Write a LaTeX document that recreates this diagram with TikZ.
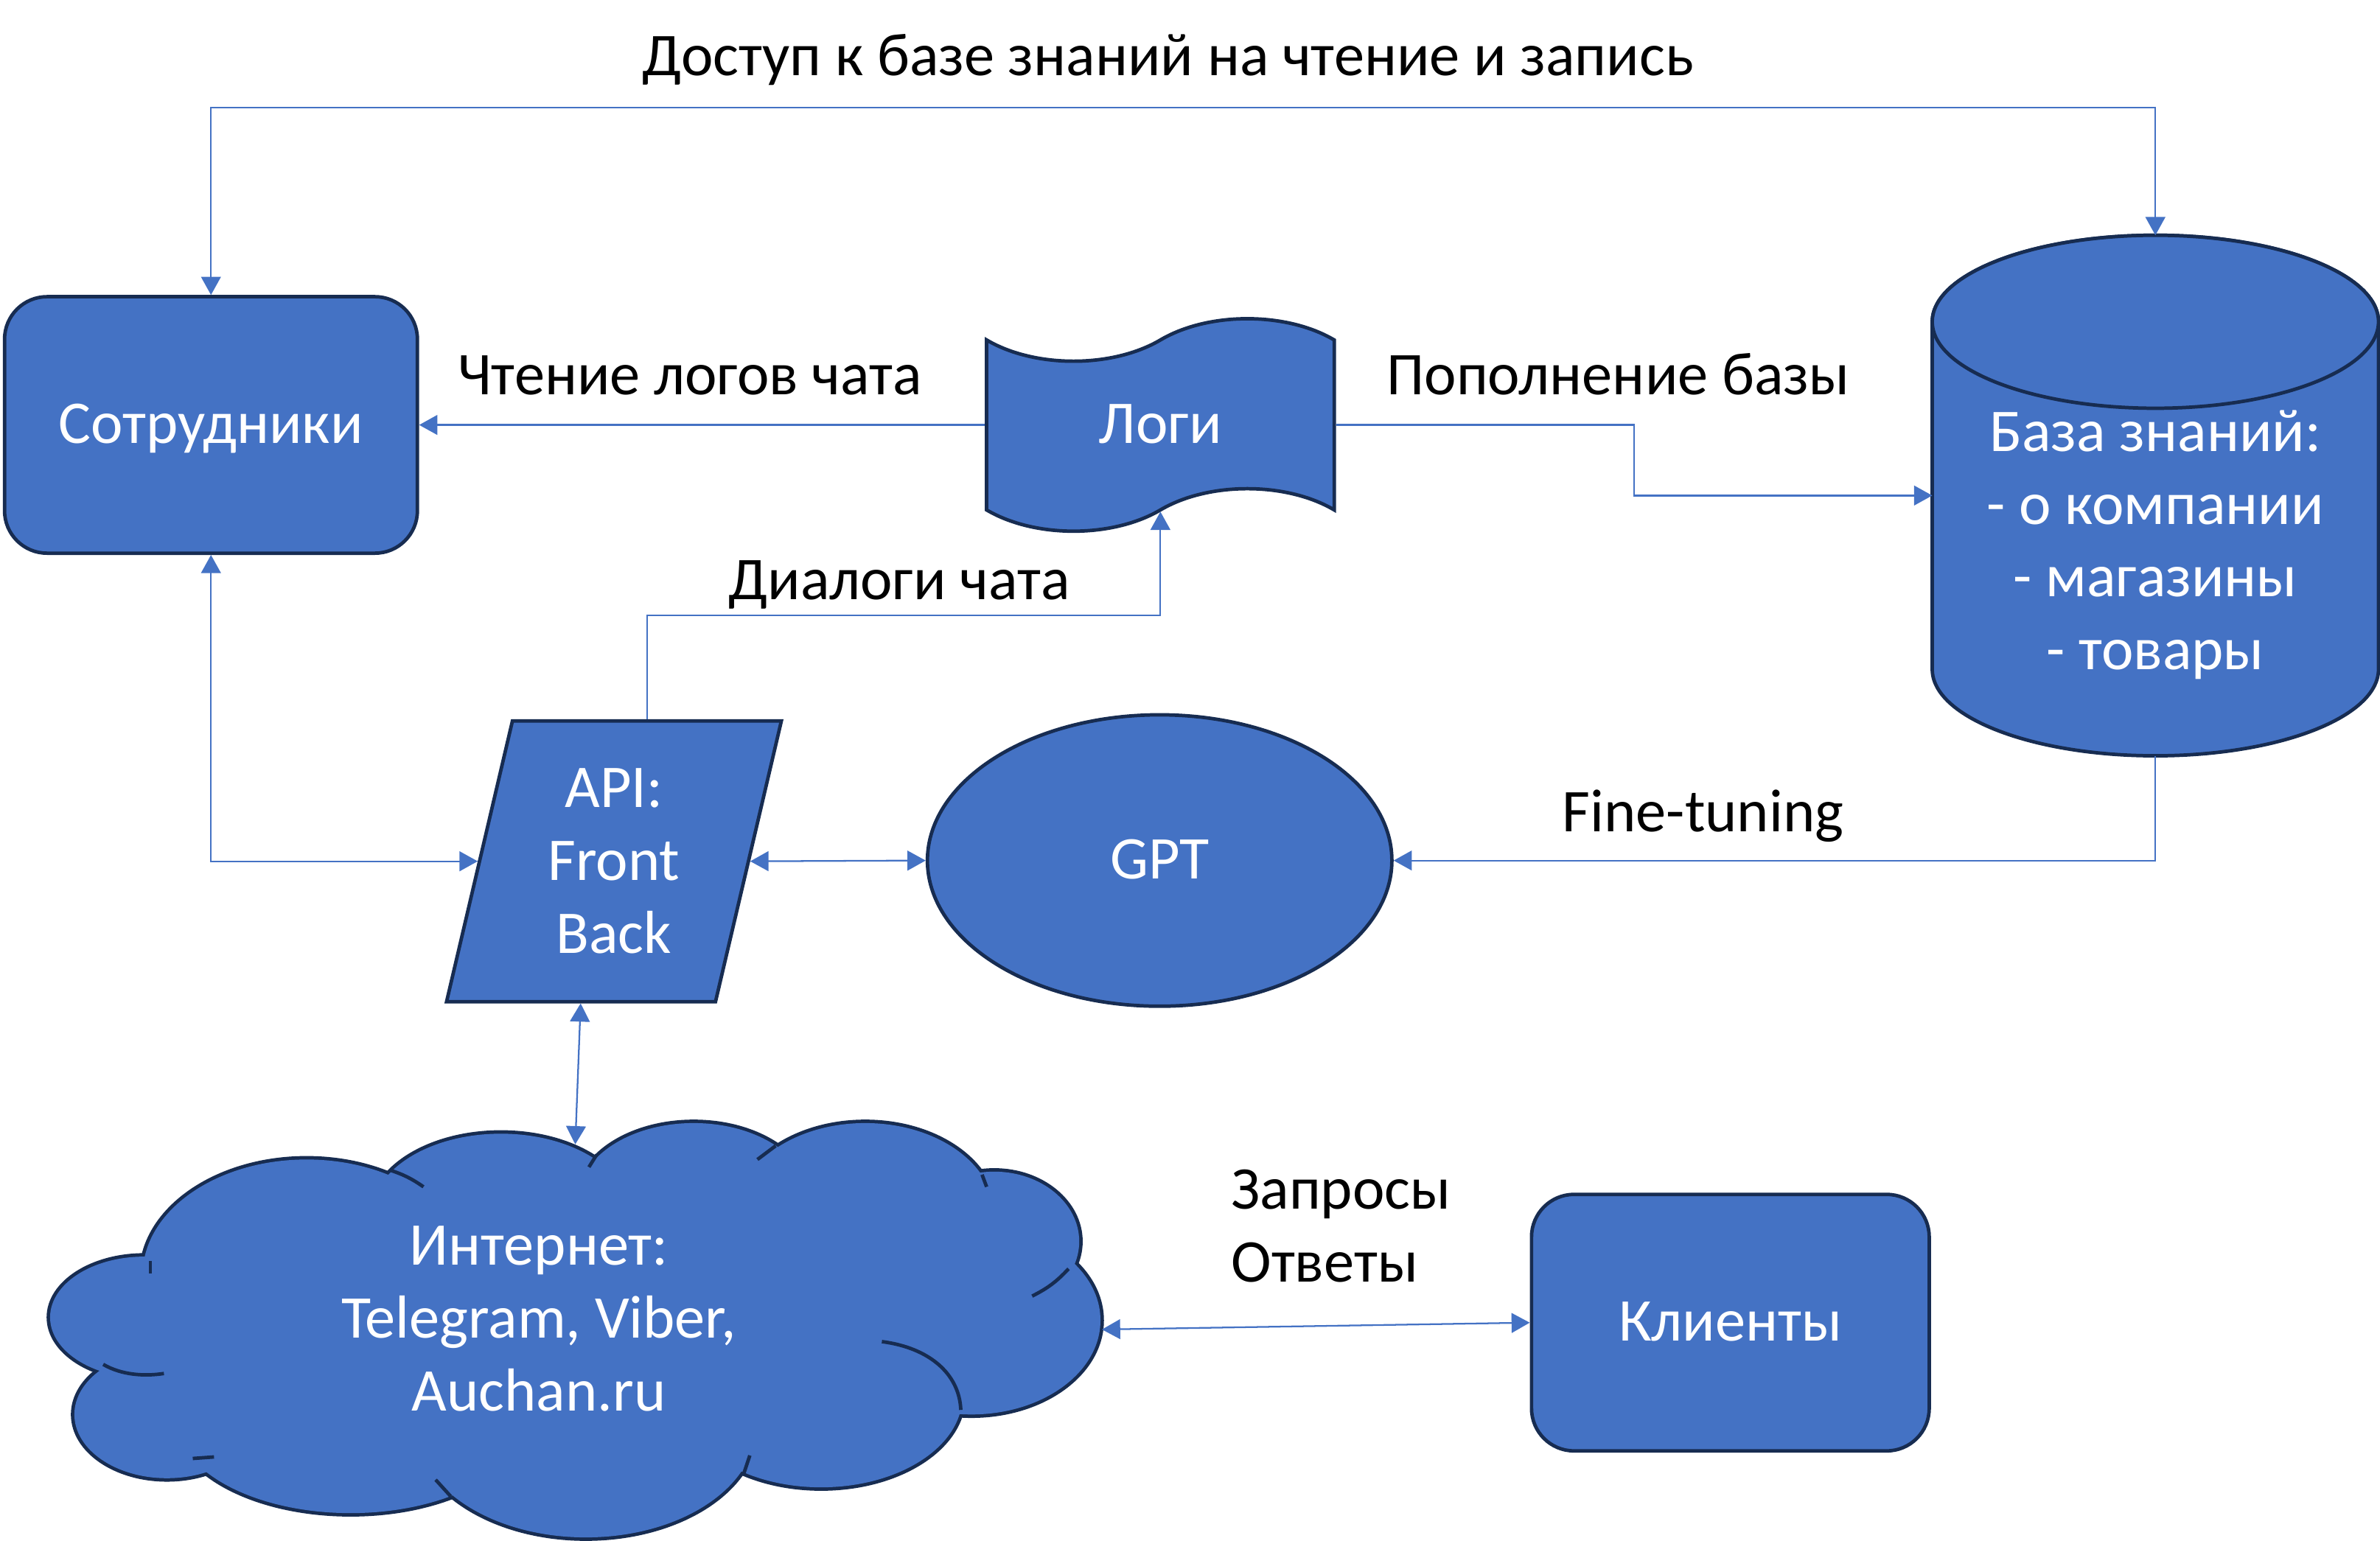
\documentclass[tikz,border=0pt]{standalone}
\usepackage{fontspec}
\setmainfont{Carlito}
\usetikzlibrary{shapes.geometric,shapes.symbols,arrows.meta,calc}
\definecolor{fillblue}{HTML}{4472C4}
\definecolor{edgeblue}{HTML}{172C51}
\newcommand{\bigfont}{\fontsize{40}{48}\selectfont}

\begin{document}
\begin{tikzpicture}[x = 1pt, y = 1pt,
		block/.style = {draw=edgeblue, fill=fillblue, line width=2.3pt, text=white, font=\bigfont, inner sep=0pt},
		oneline/.style = {text height=28pt, text depth=4pt},
		plain/.style = {font=\bigfont, inner sep=0pt},
		link/.style = {draw=fillblue, line width=1.1pt},
		tip/.style = {-{Triangle[length=12pt,width=13pt]}},
		both/.style = {{Triangle[length=12pt,width=13pt]}-{Triangle[length=12pt,width=13pt]}}]
		\useasboundingbox (0,-1015) rectangle (1568,0);
		% cloud
		\def\puffs{202/840/108/76, 330/800/85/53, 457/790/76/50, 570/800/85/60, 655/818/56/46, 640/870/85/62, 541/920/93/60, 386/940/112/73, 231/935/115/62, 110/932/61/42, 95/868/62/40}
		\foreach \cx/\cy/\rx/\ry in \puffs
			\draw[draw=edgeblue, fill=fillblue, line width=4.6pt] (\cx,-\cy) ellipse [x radius=\rx, y radius=\ry];
		\foreach \cx/\cy/\rx/\ry in \puffs
			\fill[fillblue] (\cx,-\cy) ellipse [x radius=\rx, y radius=\ry];
		\fill[fillblue] (202,-840) -- (330,-800) -- (457,-790) -- (570,-800) -- (655,-818) -- (640,-870) -- (541,-920) -- (386,-940) -- (231,-935) -- (110,-932) -- (95,-868) -- cycle;
		\draw[edgeblue, line width=2.3pt] (257,-771) to[bend left=8] (279,-782);
		\draw[edgeblue, line width=2.3pt] (393,-761) -- (388,-769);
		\draw[edgeblue, line width=2.3pt] (511,-755) -- (499,-764);
		\draw[edgeblue, line width=2.3pt] (647,-774) -- (650,-782);
		\draw[edgeblue, line width=2.3pt] (704,-836) to[bend left=10] (680,-854);
		\draw[edgeblue, line width=2.3pt] (633,-929) .. controls (632,-905) and (612,-888) .. (581,-884);
		\draw[edgeblue, line width=2.3pt] (490,-971) -- (494,-959);
		\draw[edgeblue, line width=2.3pt] (297,-986) -- (287,-975);
		\draw[edgeblue, line width=2.3pt] (127,-961) -- (141,-960);
		\draw[edgeblue, line width=2.3pt] (68,-899) .. controls (80,-906) and (95,-907) .. (108,-905);
		\draw[edgeblue, line width=2.3pt] (99,-831) -- (99,-839);
		\node[plain, text=white, align=center] (inet) at (355,-869) {Интернет:\\Telegram, Viber,\\Auchan.ru};
		\coordinate (inettop) at (379,-754);
		\coordinate (inetright) at (726,-876);

		% knowledge base
		\node[minimum width=294pt, minimum height=343pt, inner sep=0pt, outer sep=0pt] (bz) at (1420,-326.5) {};
		\draw[block] ([yshift=-57pt]bz.north west) -- ([yshift=57pt]bz.south west) arc[start angle=180, end angle=360, x radius=147, y radius=57] -- ([yshift=-57pt]bz.north east) arc[start angle=0, end angle=180, x radius=147, y radius=57] -- cycle;
		\draw[block] ([yshift=-57pt]bz.north) ellipse [x radius=147, y radius=57];
		\node[plain, text=white, align=center] (bztext) at (1420,-359) {База знаний:\\- о компании\\- магазины\\- товары};

		\node[block, oneline, rounded corners=28pt, minimum width=272pt, minimum height=169pt] (sotr) at (139,-280) {Сотрудники};
		\node[block, oneline, tape, minimum width=229pt, minimum height=140pt, tape bend height=28pt] (logi) at (764.5,-280) {Логи};
		\node[block, oneline, ellipse, minimum width=306pt, minimum height=192pt] (gpt) at (764,-567) {GPT};
		\node[block, trapezium, trapezium left angle=77, trapezium right angle=103, trapezium stretches=true, minimum width=221pt, minimum height=185pt, align=center] (api) at (404.5,-567.5) {API:\\Front\\Back};
		\node[block, oneline, rounded corners=28pt, minimum width=262pt, minimum height=169pt] (klient) at (1140,-871.5) {Клиенты};

		\node[plain, anchor=base] (title) at (769.5,-50) {Доступ к базе знаний на чтение и запись};
		\node[plain, anchor=base] (readlbl) at (454.5,-260) {Чтение логов чата};
		\node[plain, anchor=base] (addlbl) at (1066,-260) {Пополнение базы};
		\node[plain, anchor=base] (dlglbl) at (592.5,-395) {Диалоги чата};
		\node[plain, anchor=base] (ftlbl) at (1122,-548) {Fine-tuning};
		\node[plain, align=left, anchor=west] (qalbl) at (811,-808) {Запросы\\Ответы};

		\coordinate (rail) at (780,-71);
		\draw[link, both] (sotr.north) |- (rail) -| (bz.north);
		\draw[link, tip] (logi.west) -- (sotr.east);
		\draw[link, tip] (logi.east) -| ($(logi.east)!.5!(bz.west)$) |- (bz.west);
		\draw[link, tip] (bz.south) |- (gpt.east);
		\draw[link, both] (sotr.south) |- (api.left side);
		\draw[link, tip] (api.top side) |- ($(api.top side)!.5!(logi.south)$) -| (logi.south);
		\draw[link, both] (api.right side) -- (gpt.west);
		\draw[link, both] (api.bottom side) -- (inettop);
		\draw[link, both] (inetright) -- (klient.west);
	\end{tikzpicture}
\end{document}
